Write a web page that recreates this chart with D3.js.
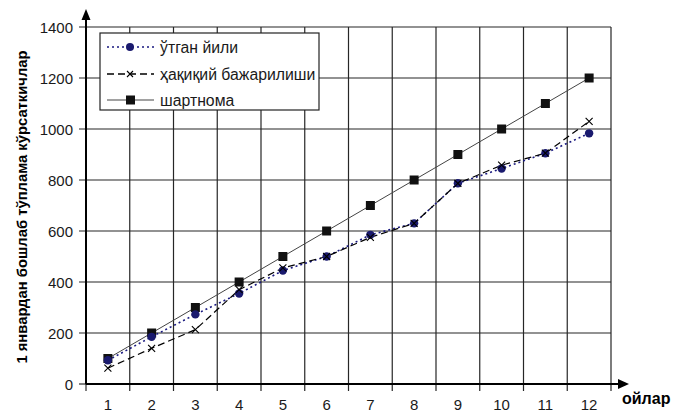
<!DOCTYPE html>
<html><head><meta charset="utf-8">
<script src="https://cdn.jsdelivr.net/npm/d3@7"></script>
<style>body{margin:0;background:#fff}svg{display:block;font-family:"Liberation Sans",Arial,sans-serif}</style>
</head><body>
<svg id="c" width="675" height="412"></svg>
<script>
const months = [1,2,3,4,5,6,7,8,9,10,11,12];
const lastYear = [93,185,273,355,445,500,585,630,787,845,905,983];
const actual = [62,140,213,370,455,500,575,630,787,858,905,1030];
const contract = [100,200,300,400,500,600,700,800,900,1000,1100,1200];
const yTicks = [0,200,400,600,800,1000,1200,1400];
const seriesNames = ["ўтган йили","ҳақиқий бажарилиши","шартнома"];
const yTitle = "1 январдан бошлаб тўплама кўрсаткичлар";
const xTitle = "ойлар";

const svg = d3.select("#c");
const L=86, R=611, T=27, B=384;
const x = d3.scaleBand().domain(months).range([L,R]);
const y = d3.scaleLinear().domain([0,1400]).range([B,T]);
const cx = d => x(d)+x.bandwidth()/2;

// grid
const g = svg.append("g");
g.selectAll(".hg").data(yTicks.filter(v=>v>0)).join("line")
  .attr("x1",L-7).attr("x2",R).attr("y1",d=>y(d)).attr("y2",d=>y(d))
  .attr("stroke","#262626").attr("stroke-width",1.2);
const vlines = months.map(m=>x(m)+x.bandwidth());
g.selectAll(".vg").data(vlines).join("line")
  .attr("x1",d=>d).attr("x2",d=>d).attr("y1",T).attr("y2",B+7)
  .attr("stroke","#262626").attr("stroke-width",1.2);
g.append("line").attr("x1",L-7).attr("x2",L).attr("y1",B).attr("y2",B).attr("stroke","#000");
g.append("line").attr("x1",L).attr("x2",L).attr("y1",B).attr("y2",B+7).attr("stroke","#000");

// axes
svg.append("line").attr("x1",L).attr("x2",L).attr("y1",B).attr("y2",18).attr("stroke","#000").attr("stroke-width",2);
svg.append("path").attr("d",`M${L},9 L${L-4.5},20 L${L+4.5},20 Z`).attr("fill","#000");
svg.append("line").attr("x1",L).attr("x2",620).attr("y1",B).attr("y2",B).attr("stroke","#000").attr("stroke-width",2.2);
svg.append("path").attr("d",`M629,${B} L618,${B-5} L618,${B+5} Z`).attr("fill","#000");

// tick labels
svg.selectAll(".yl").data(yTicks).join("text")
  .attr("x",73).attr("y",d=>y(d)+5.5).attr("text-anchor","end")
  .attr("font-size",15).attr("fill","#1a1a1a").text(d=>d);
svg.selectAll(".xl").data(months).join("text")
  .attr("x",d=>cx(d)).attr("y",410).attr("text-anchor","middle")
  .attr("font-size",15).attr("fill","#1a1a1a").text(d=>d);

// titles
svg.append("text").attr("transform",`translate(27,207) rotate(-90)`)
  .attr("text-anchor","middle").attr("font-size",14.8).attr("font-weight","bold").text(yTitle);
svg.append("text").attr("x",622).attr("y",404).attr("text-anchor","start")
  .attr("font-size",16).attr("font-weight","bold").text(xTitle);

// series
const line = d3.line().x((d,i)=>cx(months[i])).y(d=>y(d));
svg.append("path").datum(contract).attr("d",line).attr("fill","none").attr("stroke","#444").attr("stroke-width",1);
svg.append("path").datum(lastYear).attr("d",line).attr("fill","none").attr("stroke","#1a1a80").attr("stroke-width",1.6).attr("stroke-dasharray","2,3");
svg.append("path").datum(actual).attr("d",line).attr("fill","none").attr("stroke","#000").attr("stroke-width",1.2).attr("stroke-dasharray","7,4");

svg.selectAll(".sq").data(contract).join("rect")
  .attr("x",(d,i)=>cx(months[i])-4.5).attr("y",d=>y(d)-4.5).attr("width",9).attr("height",9).attr("fill","#111");
svg.selectAll(".dt").data(lastYear).join("circle")
  .attr("cx",(d,i)=>cx(months[i])).attr("cy",d=>y(d)).attr("r",4.2).attr("fill","#1a1a6e");
const xm = (px,py,s)=>`M${px-s},${py-s}L${px+s},${py+s}M${px-s},${py+s}L${px+s},${py-s}`;
svg.selectAll(".xm").data(actual).join("path")
  .attr("d",(d,i)=>xm(cx(months[i]),y(d),3.5)).attr("stroke","#000").attr("stroke-width",1.1);

// legend
const lg = svg.append("g");
lg.append("rect").attr("x",100).attr("y",33).attr("width",219).attr("height",77)
  .attr("fill","#fff").attr("stroke","#222").attr("stroke-width",1.2);
const rows = [47,74,100];
const styles = [
  {stroke:"#1a1a80",dash:"2,3",w:1.6},
  {stroke:"#000",dash:"7,4",w:1.4},
  {stroke:"#444",dash:null,w:1}
];
seriesNames.forEach((n,i)=>{
  const ry=rows[i];
  lg.append("line").attr("x1",107).attr("x2",154).attr("y1",ry).attr("y2",ry)
    .attr("stroke",styles[i].stroke).attr("stroke-width",styles[i].w).attr("stroke-dasharray",styles[i].dash);
  if(i===0) lg.append("circle").attr("cx",130).attr("cy",ry).attr("r",4).attr("fill","#1a1a6e");
  if(i===1) lg.append("path").attr("d",xm(130,ry,3)).attr("stroke","#000").attr("stroke-width",1.1);
  if(i===2) lg.append("rect").attr("x",126).attr("y",ry-4.5).attr("width",9).attr("height",9).attr("fill","#111");
  lg.append("text").attr("x",160).attr("y",ry+5.5).attr("font-size",15.8).attr("fill","#1a1a1a").text(n);
});
</script>
</body></html>
